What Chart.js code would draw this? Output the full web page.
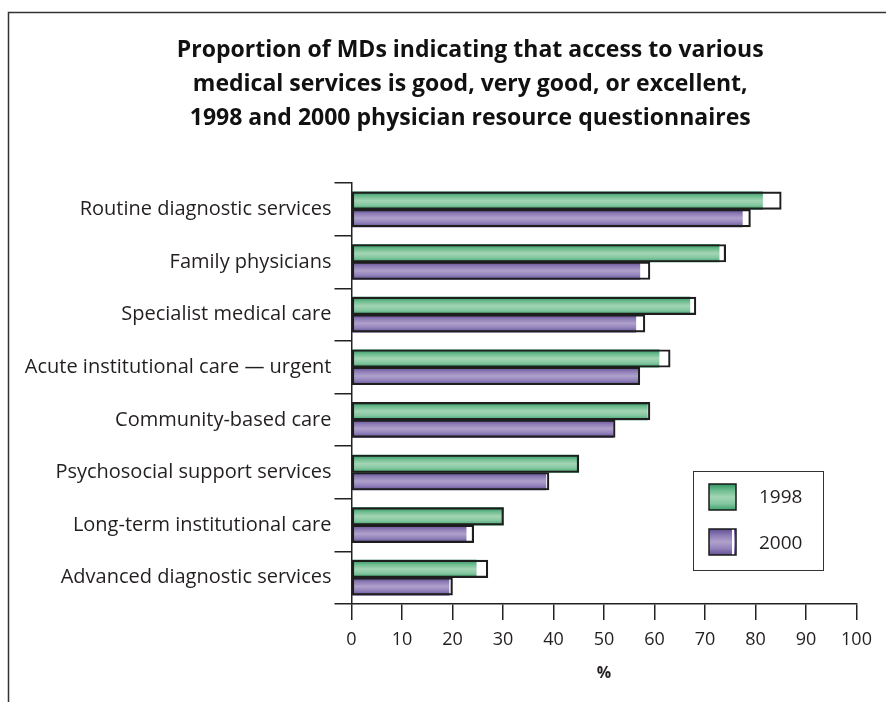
<!DOCTYPE html>
<html>
<head>
<meta charset="utf-8">
<script src="https://cdn.jsdelivr.net/npm/chart.js@4.4.1/dist/chart.umd.min.js"></script>
<style>
  html, body { margin: 0; padding: 0; background: #fff; }
</style>
</head>
<body>
<canvas id="mdChart" width="886" height="702"></canvas>
<script>
const services = [
  'Routine diagnostic services',
  'Family physicians',
  'Specialist medical care',
  'Acute institutional care \u2014 urgent',
  'Community-based care',
  'Psychosocial support services',
  'Long-term institutional care',
  'Advanced diagnostic services',
];
// shaded part of each bar, and the end of the outlined box around it
const shaded1998 = [81.4, 72.8, 67.0, 60.9, 58.6, 45.0, 30.1, 24.7];
const outline1998 = [85.1, 74.1, 68.2, 63.1, 59.1, 45.0, 30.1, 27.0];
const shaded2000 = [77.4, 57.1, 56.3, 56.7, 51.8, 38.5, 22.7, 19.3];
const outline2000 = [79.0, 59.1, 58.1, 57.1, 52.2, 39.1, 24.2, 20.0];
const years = ['1998', '2000'];

const BAR = 17.5;
const PAD_LEFT = 12;
const textColor = '#231f20';
const fontFamily = "'Open Sans', 'Noto Sans', sans-serif";

const greenStops = ['#2f9460', '#6fbd90', '#a3d5b4', '#84c7a0', '#3ea26c'];
const purpleStops = ['#5f4c92', '#8f7db7', '#afa1cb', '#9282bb', '#624f93'];

function fillFor(stops, upper) {
  return (ctx) => {
    const yScale = ctx.chart.scales.y;
    if (!yScale || ctx.dataIndex === undefined) return stops[2];
    const c = yScale.getPixelForValue(ctx.dataIndex);
    if (!isFinite(c)) return stops[2];
    const top = upper ? c - BAR : c;
    const g = ctx.chart.ctx.createLinearGradient(0, top, 0, top + BAR);
    stops.forEach((s, i) => g.addColorStop(i / (stops.length - 1), s));
    return g;
  };
}

function swatch(ctx, x, y, w, h, stops, strip) {
  const g = ctx.createLinearGradient(0, y, 0, y + h);
  stops.forEach((s, i) => g.addColorStop(i / (stops.length - 1), s));
  ctx.fillStyle = g;
  ctx.fillRect(x, y, w, h);
  if (strip) {
    ctx.fillStyle = '#fff';
    ctx.fillRect(x + w - 4, y, 2, h);
  }
  ctx.strokeStyle = '#1a1a1a';
  ctx.lineWidth = 1.5;
  ctx.strokeRect(x, y, w, h);
}

// page frame (top and left rule)
const framePlugin = {
  id: 'frame',
  afterLayout(chart) {
    // title in the original sits right of the canvas centre
    const t = chart.titleBlock;
    if (t) { t.left += 36; t.right += 36; }
  },
  beforeDraw(chart) {
    const ctx = chart.ctx;
    ctx.save();
    ctx.strokeStyle = '#333';
    ctx.lineWidth = 1.5;
    ctx.beginPath();
    ctx.moveTo(chart.width, 12.5);
    ctx.lineTo(8.5, 12.5);
    ctx.lineTo(8.5, chart.height);
    ctx.stroke();
    ctx.restore();
  },
};

// boxed legend sitting inside the plot
const boxLegend = {
  id: 'boxLegend',
  afterDraw(chart) {
    const { ctx, chartArea } = chart;
    const right = chartArea.right - 33.5;
    const bottom = chartArea.bottom - 34;
    const left = right - 130;
    const top = bottom - 99;
    ctx.save();
    ctx.strokeStyle = '#333';
    ctx.lineWidth = 1;
    ctx.strokeRect(left + 0.5, top + 0.5, 130, 99);
    swatch(ctx, left + 16, top + 13, 27, 26, greenStops, false);
    swatch(ctx, left + 16, top + 58, 27, 26, purpleStops, true);
    ctx.fillStyle = textColor;
    ctx.font = '19px ' + fontFamily;
    ctx.textBaseline = 'middle';
    ctx.textAlign = 'left';
    ctx.fillText(years[0], left + 66, top + 27);
    ctx.fillText(years[1], left + 66, top + 73);
    ctx.restore();
  },
};

const outlineStyle = {
  backgroundColor: 'rgba(255,255,255,0)',
  borderColor: '#1e1e1e',
  borderWidth: 1.5,
  borderSkipped: false,
  order: 0,
};

new Chart(document.getElementById('mdChart'), {
  type: 'bar',
  data: {
    labels: services,
    datasets: [
      { label: years[0] + ' box', data: outline1998, stack: 's1998', ...outlineStyle },
      { label: years[1] + ' box', data: outline2000, stack: 's2000', ...outlineStyle },
      {
        label: years[0], data: shaded1998, stack: 's1998', order: 1,
        backgroundColor: fillFor(greenStops, true), borderWidth: 0,
      },
      {
        label: years[1], data: shaded2000, stack: 's2000', order: 1,
        backgroundColor: fillFor(purpleStops, false), borderWidth: 0,
      },
    ],
  },
  options: {
    indexAxis: 'y',
    responsive: false,
    animation: false,
    barThickness: BAR,
    layout: { padding: { left: PAD_LEFT, right: 29.5, top: 0, bottom: 0 } },
    plugins: {
      legend: { display: false },
      tooltip: { enabled: false },
      title: {
        display: true,
        text: [
          'Proportion of MDs indicating that access to various',
          'medical services is good, very good, or excellent,',
          '1998 and 2000 physician resource questionnaires',
        ],
        color: '#111',
        font: { family: fontFamily, size: 23, weight: 'bold', lineHeight: 1.48 },
        padding: { top: 33, bottom: 48 },
      },
    },
    scales: {
      x: {
        min: 0,
        max: 100,
        stacked: false,
        ticks: { stepSize: 10, color: textColor, padding: 9, font: { family: fontFamily, size: 18 } },
        grid: { drawOnChartArea: false, tickLength: 16, color: '#222', lineWidth: 1.5 },
        border: { color: '#222', width: 1.5 },
        title: {
          display: true,
          text: '%',
          color: textColor,
          font: { family: fontFamily, size: 16, weight: 'bold' },
          padding: { top: 0, bottom: 19 },
        },
        afterFit(scale) { scale.height = 98; },
      },
      y: {
        ticks: { color: textColor, padding: 3, font: { family: fontFamily, size: 20 } },
        grid: { drawOnChartArea: false, tickLength: 17, color: '#222', lineWidth: 1.5, offset: true },
        border: { color: '#222', width: 1.5 },
        afterFit(scale) { scale.width = 351.5 - PAD_LEFT; },
      },
    },
  },
  plugins: [framePlugin, boxLegend],
});
</script>
</body>
</html>
